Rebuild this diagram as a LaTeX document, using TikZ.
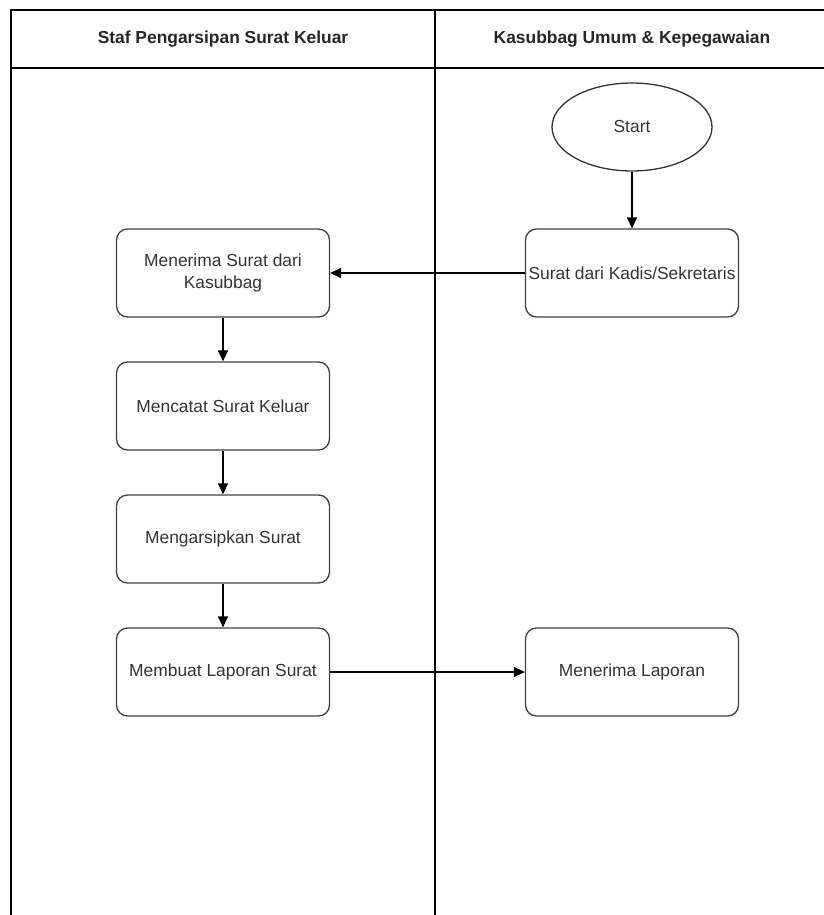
\documentclass[tikz,border=0pt]{standalone}
\usepackage{fontspec}
\setmainfont{Liberation Sans}
\usetikzlibrary{shapes.geometric,arrows.meta}
\begin{document}
\begin{tikzpicture}[x=1pt,y=-1pt,
  lane/.style={line width=1.5pt,draw=black},
  procbox/.style={draw=black!75,line width=1.3pt,rounded corners=11pt,minimum width=213pt,minimum height=88pt,inner sep=2pt,align=center,text=black!80,font=\fontsize{17.4}{22}\selectfont},
  startnode/.style={draw=black!80,line width=1.3pt,ellipse,minimum width=160pt,minimum height=88pt,inner sep=0pt,text=black!80,font=\fontsize{17.4}{22}\selectfont},
  hdr/.style={font=\bfseries\fontsize{17.4}{20}\selectfont,text=black!85},
  flow/.style={line width=1.4pt,-{Triangle[length=11pt,width=10pt]}}]
\useasboundingbox (0,0) rectangle (824,915);
% swimlane frame
\coordinate (tl) at (11,10);
\coordinate (tr) at (824,10);
\coordinate (hl) at (11,68);
\coordinate (hr) at (824,68);
\coordinate (bl) at (11,915);
\coordinate (mt) at (435,10);
\coordinate (mb) at (435,915);
\draw[lane] (bl) -- (tl) -- (tr);
\draw[lane] (hl) -- (hr);
\draw[lane] (mt) -- (mb);
\node[hdr] (h1) at (223,39) {Staf Pengarsipan Surat Keluar};
\node[hdr] (h2) at (632,39) {Kasubbag Umum \& Kepegawaian};
% nodes
\node[startnode] (start) at (632,127) {Start};
\node[procbox] (kadis) at (632,273) {Surat dari Kadis/Sekretaris};
\node[procbox] (terima) at (223,273) {Menerima Surat dari\\Kasubbag};
\node[procbox] (catat) at (223,406) {Mencatat Surat Keluar};
\node[procbox] (arsip) at (223,539) {Mengarsipkan Surat};
\node[procbox] (laporan) at (223,672) {Membuat Laporan Surat};
\node[procbox] (terimalap) at (632,672) {Menerima Laporan};
% connectors
\draw[flow] (start) -- (kadis);
\draw[flow] (kadis) -- (terima);
\draw[flow] (terima) -- (catat);
\draw[flow] (catat) -- (arsip);
\draw[flow] (arsip) -- (laporan);
\draw[flow] (laporan) -- (terimalap);
\end{tikzpicture}
\end{document}
